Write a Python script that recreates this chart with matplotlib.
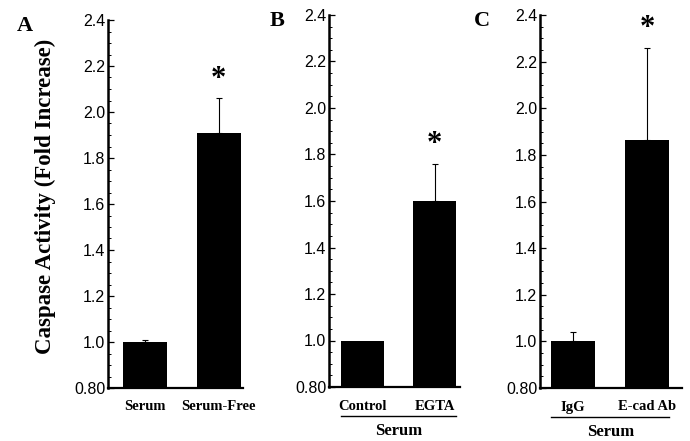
"""Caspase activity, three panels (A/B/C) of black bars with upper error bars."""
import matplotlib
matplotlib.use("Agg")
import matplotlib.pyplot as plt
from matplotlib.ticker import MultipleLocator

SERIF = "Liberation Serif"
SANS = "Liberation Sans"

# panel data
a_labels = ["Serum", "Serum-Free"]
a_values = [1.0, 1.91]
a_errors = [0.01, 0.15]

b_labels = ["Control", "EGTA"]
b_values = [1.0, 1.60]
b_errors = [0.0, 0.16]

c_labels = ["IgG", "E-cad Ab"]
c_values = [1.0, 1.865]
c_errors = [0.04, 0.395]

y_ticks = [0.8, 1.0, 1.2, 1.4, 1.6, 1.8, 2.0, 2.2, 2.4]
y_ticklabels = ["0.80", "1.0", "1.2", "1.4", "1.6", "1.8", "2.0", "2.2", "2.4"]

W, H = 690, 441


def px_axes(left, right, top, bottom):
    return [left / W, 1 - bottom / H, (right - left) / W, (bottom - top) / H]


def panel(fig, rect, labels, values, errors, xlim, letter, letter_xy, star_idx, group=None):
    ax = fig.add_axes(rect)
    x = list(range(len(values)))
    ax.bar(x, values, width=0.6, color="black", zorder=2)
    for xi, v, e in zip(x, values, errors):
        if e > 0:
            ax.errorbar(xi, v, yerr=[[0], [e]], fmt="none", ecolor="black",
                        elinewidth=0.8, capsize=2, capthick=0.8, zorder=1)
    ax.set_ylim(0.8, 2.4)
    ax.set_xlim(*xlim)
    ax.set_yticks(y_ticks, y_ticklabels, fontfamily=SANS, fontsize=11.5)
    ax.yaxis.set_minor_locator(MultipleLocator(0.05))
    ax.tick_params(axis="y", which="major", direction="in", length=4, width=0.9, pad=2)
    ax.tick_params(axis="y", which="minor", direction="in", length=2, width=0.7)
    ax.set_xticks(x, labels, fontfamily=SERIF, fontweight="bold", fontsize=10.5)
    ax.tick_params(axis="x", length=0, pad=9)
    for s in ("top", "right"):
        ax.spines[s].set_visible(False)
    ax.spines["left"].set_linewidth(1.8)
    ax.spines["bottom"].set_linewidth(1.6)

    sx = star_idx
    ax.text(sx, values[sx] + errors[sx] + 0.02, "*", ha="center", va="bottom",
            fontsize=22, fontweight="bold", fontfamily=SERIF)

    fig.text(letter_xy[0] / W, 1 - letter_xy[1] / H, letter, ha="center", va="center",
             fontsize=16, fontweight="bold", fontfamily=SERIF)

    if group is not None:
        tr = ax.get_xaxis_transform()
        x0, x1 = group
        ax.plot([x0, x1], [-0.077, -0.077], color="black", lw=1.0,
                transform=tr, clip_on=False)
        ax.text((x0 + x1) / 2, -0.119, "Serum", transform=tr, ha="center", va="center",
                fontsize=12, fontweight="bold", fontfamily=SERIF)
    return ax


fig = plt.figure(figsize=(W / 100, H / 100), dpi=100)

panel(fig, px_axes(108, 243, 20, 388), a_labels, a_values, a_errors,
      (-0.5, 1.33), "A", (25, 26), 1)
panel(fig, px_axes(329, 460, 15, 387), b_labels, b_values, b_errors,
      (-0.47, 1.35), "B", (277, 21), 1, group=(-0.3, 1.3))
panel(fig, px_axes(540, 682, 15, 388), c_labels, c_values, c_errors,
      (-0.45, 1.47), "C", (482, 21), 1, group=(-0.3, 1.3))

fig.text(45 / W, 1 - 196 / H, "Caspase Activity (Fold Increase)", rotation=90,
         ha="center", va="center", fontsize=16.5, fontweight="bold", fontfamily=SERIF)

fig.savefig("out.png", dpi=100)
